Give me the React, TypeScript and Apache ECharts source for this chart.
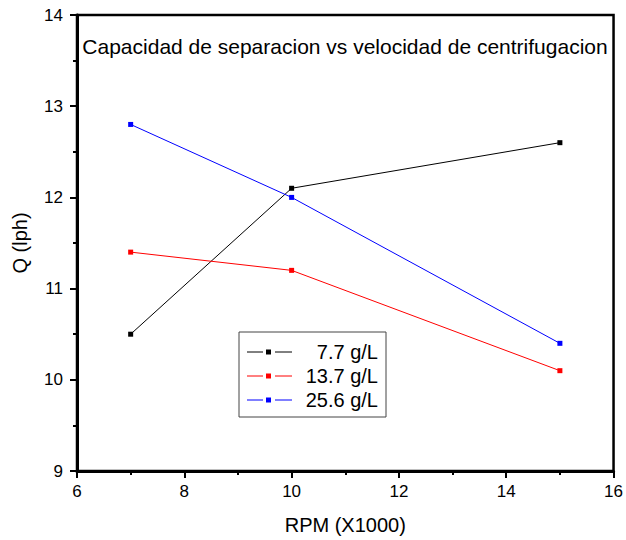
import React, { useEffect, useRef } from "react";
import * as echarts from "echarts";

const rpm = [7, 10, 15];
const seriesNames = ["7.7 g/L", "13.7 g/L", "25.6 g/L"];
const seriesColors = ["#000000", "#ff0000", "#0000ff"];
const q77 = [10.5, 12.1, 12.6];
const q137 = [11.4, 11.2, 10.1];
const q256 = [12.8, 12.0, 10.4];
const seriesValues = [q77, q137, q256];
const titleText = "Capacidad de separacion vs velocidad de centrifugacion";

export default function App() {
  const ref = useRef<HTMLDivElement>(null);
  useEffect(() => {
    if (!ref.current) return;
    const chart = echarts.init(ref.current, undefined, { renderer: "svg" });
    const font = "'Liberation Sans', Arial, sans-serif";
    const legendX = 239;
    const legendY = 332;
    const rowH = 24;
    const legendGraphics: any[] = [
      {
        type: "rect",
        shape: { x: legendX, y: legendY, width: 147, height: 85 },
        style: { fill: "#fff", stroke: "#444", lineWidth: 1 },
        z: 100,
      },
    ];
    seriesNames.forEach((name, i) => {
      const cy = legendY + 20 + i * rowH;
      const c = seriesColors[i];
      legendGraphics.push(
        { type: "line", shape: { x1: 247, y1: cy, x2: 263, y2: cy }, style: { stroke: c, lineWidth: 1 }, z: 101 },
        { type: "line", shape: { x1: 275, y1: cy, x2: 292, y2: cy }, style: { stroke: c, lineWidth: 1 }, z: 101 },
        { type: "rect", shape: { x: 266, y: cy - 2.5, width: 5, height: 5 }, style: { fill: c }, z: 101 },
        {
          type: "text",
          x: 378,
          y: cy,
          style: { text: name, fill: "#000", font: `20px ${font}`, align: "right", verticalAlign: "middle" },
          z: 101,
        }
      );
    });
    chart.setOption({
      animation: false,
      backgroundColor: "#fff",
      grid: { left: 77, right: 9, top: 15, bottom: 69, show: true, borderColor: "#000", borderWidth: 2.5 },
      xAxis: {
        type: "value",
        min: 6,
        max: 16,
        interval: 2,
        name: "RPM (X1000)",
        nameLocation: "middle",
        nameGap: 44,
        nameTextStyle: { fontSize: 20, color: "#000", fontFamily: font },
        axisLine: { lineStyle: { color: "#000", width: 3 } },
        axisTick: { show: true, length: 7, lineStyle: { color: "#000", width: 2 } },
        minorTick: { show: true, splitNumber: 2, length: 4, lineStyle: { color: "#000", width: 2 } },
        axisLabel: { fontSize: 17, color: "#000", fontFamily: font, margin: 12 },
        splitLine: { show: false },
      },
      yAxis: {
        type: "value",
        min: 9,
        max: 14,
        interval: 1,
        name: "Q (lph)",
        nameLocation: "middle",
        nameGap: 47,
        nameTextStyle: { fontSize: 20, color: "#000", fontFamily: font },
        axisLine: { show: true, lineStyle: { color: "#000", width: 3 } },
        axisTick: { show: true, length: 7, lineStyle: { color: "#000", width: 2 } },
        minorTick: { show: true, splitNumber: 2, length: 4, lineStyle: { color: "#000", width: 2 } },
        axisLabel: { fontSize: 17, color: "#000", fontFamily: font, margin: 14 },
        splitLine: { show: false },
      },
      graphic: [
        {
          type: "text",
          x: 345,
          y: 46,
          style: { text: titleText, fill: "#000", font: `21px ${font}`, align: "center", verticalAlign: "middle" },
        },
        ...legendGraphics,
      ],
      series: seriesNames.map((name, i) => ({
        name,
        type: "line",
        data: rpm.map((x, j) => [x, seriesValues[i][j]]),
        symbol: "rect",
        symbolSize: 5,
        lineStyle: { color: seriesColors[i], width: 1 },
        itemStyle: { color: seriesColors[i] },
      })),
    });
    return () => chart.dispose();
  }, []);
  return <div ref={ref} style={{ width: 626, height: 540, position: "absolute", left: 0, top: 0 }} />;
}
